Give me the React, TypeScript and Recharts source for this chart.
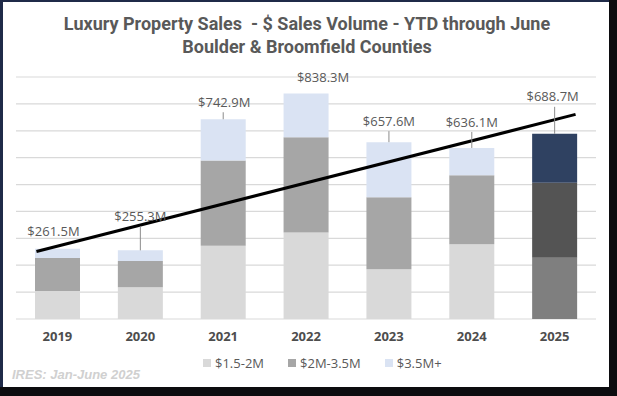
import React from 'react';
import { ComposedChart, Bar, XAxis, YAxis, CartesianGrid, LabelList, ReferenceLine, Cell } from 'recharts';

// YTD through June, $M
const years = ['2019', '2020', '2021', '2022', '2023', '2024', '2025'];
const tierLow = [104, 118, 272, 322, 185, 278, 228]; // $1.5-2M
const tierMid = [123, 98, 317, 354, 268, 257, 279]; // $2M-3.5M
const tierHigh = [34.5, 39.3, 153.9, 162.3, 204.6, 101.1, 181.7]; // $3.5M+
const totals = [261.5, 255.3, 742.9, 838.3, 657.6, 636.1, 688.7];
const yTicks = [0, 100, 200, 300, 400, 500, 600, 700, 800, 900];

// trend line level ($M) at the first and last year
const trendStart = 271;
const trendEnd = 741;

const seriesNames = ['$1.5-2M', '$2M-3.5M', '$3.5M+'];
const seriesColors = ['#d9d9d9', '#a6a6a6', '#dae3f3'];
const colors2025 = ['#7f7f7f', '#545454', '#2f4161'];

// where each total label sits relative to its bar top
const labelLift = [17, 34, 17, 16, 21, 26, 37];
const labelShift = [-4, 0, 1, 17, 0, 0, -2];
const hasLeader = [false, true, true, false, true, true, true];
const trendOvershoot = 21; // px past the outer bar centres

const data = years.map((year, i) => ({
  year,
  low: tierLow[i],
  mid: tierMid[i],
  high: tierHigh[i],
  total: totals[i],
}));

const renderTotal = (props: any) => {
  const { x, y, width, index, value } = props;
  const bx = Number(x) + Number(width) / 2;
  const top = Number(y);
  const ly = top - labelLift[index];
  return (
    <g key={`total-${index}`}>
      {hasLeader[index] && (
        <line x1={bx} x2={bx} y1={ly + 10} y2={top} stroke="#8c8c8c" strokeWidth={1} />
      )}
      <text
        x={bx + labelShift[index]}
        y={ly}
        dy="0.35em"
        textAnchor="middle"
        fontFamily="'Open Sans', sans-serif"
        fontSize={13}
        fill="#595959"
      >
        {`$${Number(value).toFixed(1)}M`}
      </text>
    </g>
  );
};

const renderTrend = (props: any) => {
  const x1 = Number(props.x1);
  const y1 = Number(props.y1);
  const x2 = Number(props.x2);
  const y2 = Number(props.y2);
  const dx = x2 - x1;
  const dy = y2 - y1;
  const k = dx ? trendOvershoot / dx : 0;
  return (
    <line x1={x1 - dx * k} y1={y1 - dy * k} x2={x2 + dx * k} y2={y2 + dy * k} stroke="#000" strokeWidth={3} />
  );
};

export default function App() {
  const lastIdx = years.length - 1;
  return (
    <div style={{ position: 'fixed', left: 0, top: 0, width: 617, height: 396, background: '#0c0c0f' }}>
      <div
        style={{
          position: 'absolute', left: 0, top: 0, width: 609, height: 387,
          background: '#fff', borderLeft: '3px solid #1f2a48', borderTop: '2px solid #1f2a48',
          boxSizing: 'border-box',
        }}
      />
      <div
        style={{
          position: 'absolute', left: 0, top: 12, width: 614, textAlign: 'center',
          fontFamily: 'Roboto, sans-serif', fontWeight: 700, fontSize: 18, lineHeight: '23px', color: '#595959',
        }}
      >
        <div style={{ whiteSpace: 'pre' }}>Luxury Property Sales  - $ Sales Volume - YTD through June</div>
        <div>Boulder &amp; Broomfield Counties</div>
      </div>

      <div style={{ position: 'absolute', left: 0, top: 0 }}>
        <ComposedChart width={617} height={350} data={data} margin={{ top: 77, right: 21, bottom: 0, left: 16 }}>
          <CartesianGrid vertical={false} stroke="#d9d9d9" strokeWidth={1.2} />
          <XAxis
            dataKey="year"
            axisLine={false}
            tickLine={false}
            tickMargin={7}
            height={31}
            tick={{ fontFamily: "'Open Sans', sans-serif", fontSize: 13, fontWeight: 700, fill: '#4d4d4d' }}
          />
          <YAxis hide domain={[0, 900]} ticks={yTicks} />
          <Bar dataKey="low" stackId="a" name={seriesNames[0]} fill={seriesColors[0]} barSize={45} isAnimationActive={false}>
            {data.map((_, i) => (
              <Cell key={i} fill={i === lastIdx ? colors2025[0] : seriesColors[0]} />
            ))}
          </Bar>
          <Bar dataKey="mid" stackId="a" name={seriesNames[1]} fill={seriesColors[1]} barSize={45} isAnimationActive={false}>
            {data.map((_, i) => (
              <Cell key={i} fill={i === lastIdx ? colors2025[1] : seriesColors[1]} />
            ))}
          </Bar>
          <Bar dataKey="high" stackId="a" name={seriesNames[2]} fill={seriesColors[2]} barSize={45} isAnimationActive={false}>
            {data.map((_, i) => (
              <Cell key={i} fill={i === lastIdx ? colors2025[2] : seriesColors[2]} />
            ))}
            <LabelList dataKey="total" content={renderTotal} />
          </Bar>
          <ReferenceLine
            segment={[{ x: years[0], y: trendStart }, { x: years[lastIdx], y: trendEnd }]}
            shape={renderTrend}
            ifOverflow="visible"
          />
        </ComposedChart>
      </div>

      <div
        style={{
          position: 'absolute', left: 203, top: 354, display: 'flex', alignItems: 'center',
          fontFamily: "'Open Sans', sans-serif", fontSize: 13, lineHeight: '18px', color: '#595959',
        }}
      >
        {seriesNames.map((name, i) => (
          <div key={name} style={{ display: 'flex', alignItems: 'center', marginRight: 24 }}>
            <span style={{ display: 'inline-block', width: 8, height: 8, background: seriesColors[i], marginRight: 4 }} />
            <span>{name}</span>
          </div>
        ))}
      </div>

      <div
        style={{
          position: 'absolute', left: 12, top: 367, fontFamily: "'Liberation Sans Narrow', sans-serif",
          fontStyle: 'italic', fontWeight: 700, fontSize: 13, lineHeight: '16px', color: '#d0d0d0',
        }}
      >
        IRES: Jan-June 2025
      </div>
    </div>
  );
}
